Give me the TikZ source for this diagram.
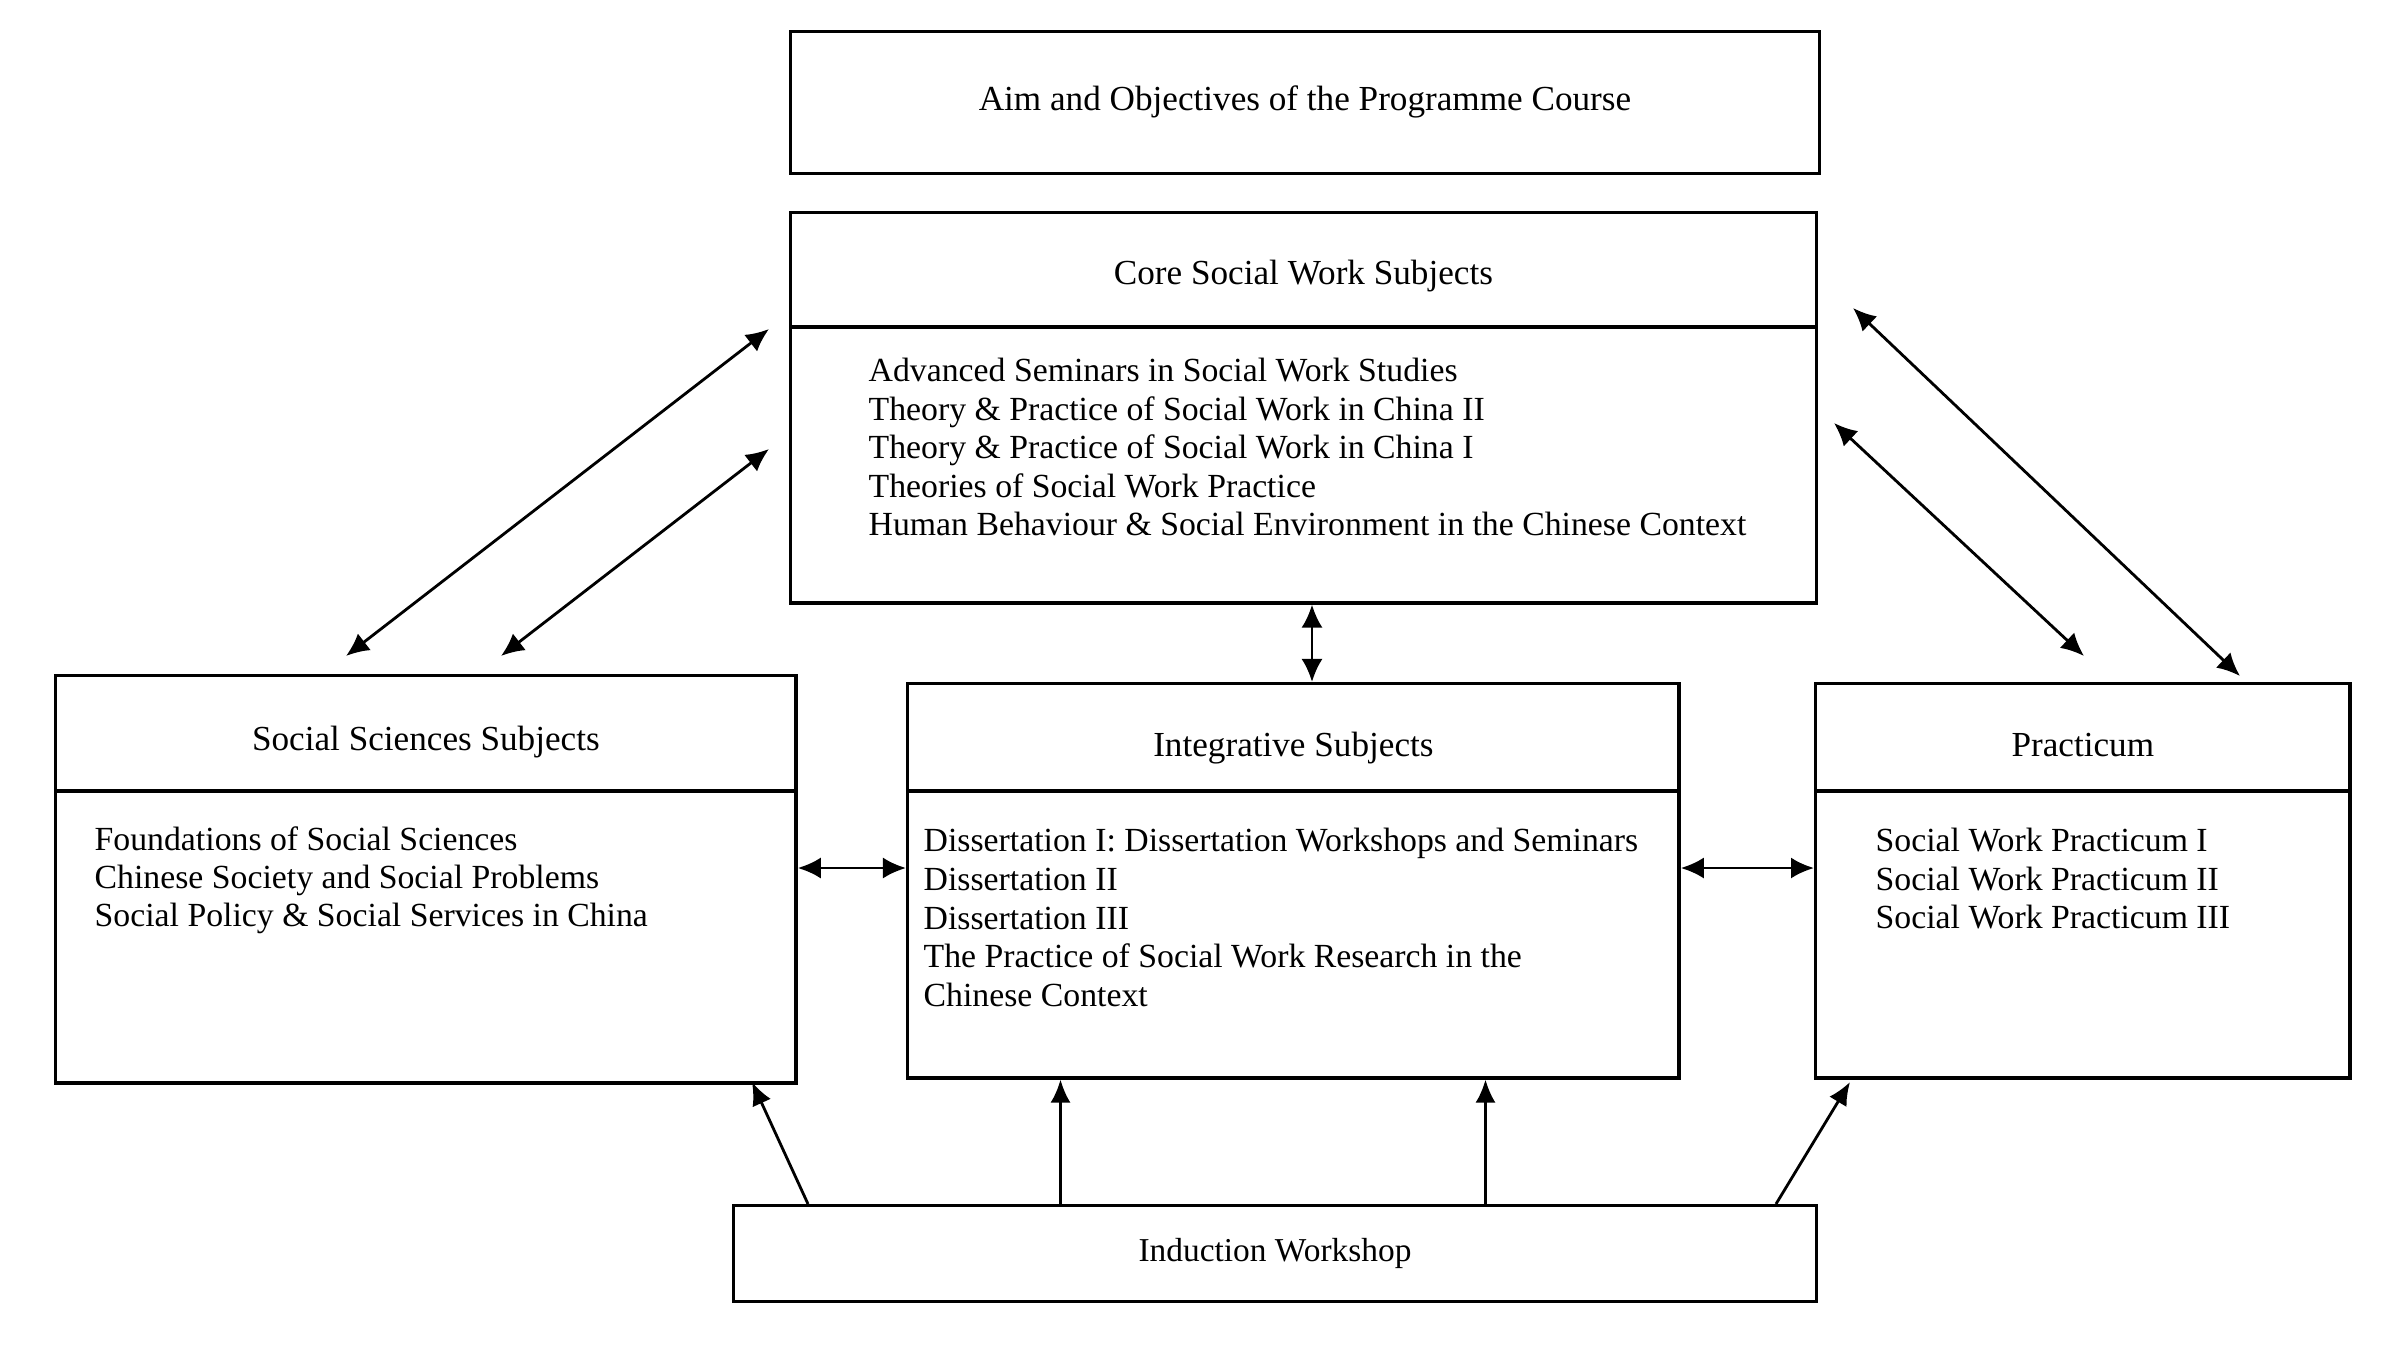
\documentclass[tikz,border=0pt]{standalone}
\usepackage{fontspec}
\setmainfont{Liberation Serif}
\usetikzlibrary{arrows.meta,calc}
\begin{document}
\begin{tikzpicture}[x=0.01cm,y=-0.01cm,
  box/.style={draw,line width=0.95pt,rectangle,inner sep=0pt,anchor=north west},
  divider/.style={line width=0.95pt},
  head/.style={font=\fontsize{10}{12}\selectfont,anchor=base,inner sep=0pt},
  body/.style={font=\fontsize{9.6}{11}\selectfont,anchor=base west,inner sep=0pt},
  conn/.style={line width=0.8pt},
  dbl/.style={conn,{Latex[length=0.23cm,width=0.21cm]}-{Latex[length=0.23cm,width=0.21cm]}},
  one/.style={conn,-{Latex[length=0.23cm,width=0.2cm]}}]
\fill[white] (0,0) rectangle (2399,1354);
\useasboundingbox (0,0) rectangle (2399,1354);

% boxes
\node[box,minimum width=10.28cm,minimum height=1.42cm] (aim) at (789,30) {};
\node[box,minimum width=10.25cm,minimum height=3.90cm] (core) at (789,211) {};
\node[box,minimum width=7.40cm,minimum height=4.07cm] (soc) at (54,674) {};
\node[box,minimum width=7.71cm,minimum height=3.94cm] (integ) at (906,682) {};
\node[box,minimum width=5.34cm,minimum height=3.94cm] (prac) at (1814,682) {};
\node[box,minimum width=10.82cm,minimum height=0.96cm] (ind) at (732,1204) {};

% dividers
\draw[divider] (core.west |- 0,327) -- (core.east |- 0,327);
\draw[divider] (soc.west |- 0,791) -- (soc.east |- 0,791);
\draw[divider] (integ.west |- 0,791) -- (integ.east |- 0,791);
\draw[divider] (prac.west |- 0,791) -- (prac.east |- 0,791);

% headings
\node[head] (aimT) at (aim.center |- 0,110.7) {Aim and Objectives of the Programme Course};
\node[head] (coreT) at (core.center |- 0,284.7) {Core Social Work Subjects};
\node[head] (socT) at (soc.center |- 0,750) {Social Sciences Subjects};
\node[head] (integT) at (integ.center |- 0,756.5) {Integrative Subjects};
\node[head] (pracT) at (prac.center |- 0,756) {Practicum};
\node[head,font=\fontsize{9.5}{11}\selectfont] (indT) at (ind.center |- 0,1261.5) {Induction Workshop};

% body texts
\foreach \t [count=\i] in {Advanced Seminars in Social Work Studies,
  Theory \& Practice of Social Work in China II,
  Theory \& Practice of Social Work in China I,
  Theories of Social Work Practice,
  Human Behaviour \& Social Environment in the Chinese Context}
  \node[body] (coreL\i) at (868,{381.6+38.55*(\i-1)}) {\t};

\foreach \t [count=\i] in {Foundations of Social Sciences,
  Chinese Society and Social Problems,
  Social Policy \& Social Services in China}
  \node[body] (socL\i) at (94,{850+38.4*(\i-1)}) {\t};

\foreach \t [count=\i] in {Dissertation I: Dissertation Workshops and Seminars,
  Dissertation II,
  Dissertation III,
  The Practice of Social Work Research in the,
  Chinese Context}
  \node[body] (integL\i) at (923,{851.7+38.75*(\i-1)}) {\t};

\foreach \t [count=\i] in {Social Work Practicum I,
  Social Work Practicum II,
  Social Work Practicum III}
  \node[body] (pracL\i) at (1875,{851.7+38.3*(\i-1)}) {\t};

% free ends of diagonal connectors
\coordinate (cs1) at (769,329);
\coordinate (sc1) at (346,656);
\coordinate (cs2) at (769,449);
\coordinate (sc2) at (501,656);
\coordinate (cp1) at (1853,308);
\coordinate (pc1) at (2240,676);
\coordinate (cp2) at (1834,423);
\coordinate (pc2) at (2084,656);
\coordinate (is) at (808,1204);
\coordinate (si) at (752,1082);
\coordinate (ip) at (1776,1204);
\coordinate (pi) at (1850,1082);

% connectors
\draw[dbl] (cs1) -- (sc1);
\draw[dbl] (cs2) -- (sc2);
\draw[dbl] (cp1) -- (pc1);
\draw[dbl] (cp2) -- (pc2);
\draw[dbl] (core.south -| 1312,0) -- (integ.north -| 1312,0);
\draw[dbl] (soc.east |- 0,868) -- (integ.west |- 0,868);
\draw[dbl] (integ.east |- 0,868) -- (prac.west |- 0,868);
\draw[one] (is) -- (si);
\draw[one] (ind.north -| 1060.5,0) -- (integ.south -| 1060.5,0);
\draw[one] (ind.north -| 1485.5,0) -- (integ.south -| 1485.5,0);
\draw[one] (ip) -- (pi);
\end{tikzpicture}
\end{document}
